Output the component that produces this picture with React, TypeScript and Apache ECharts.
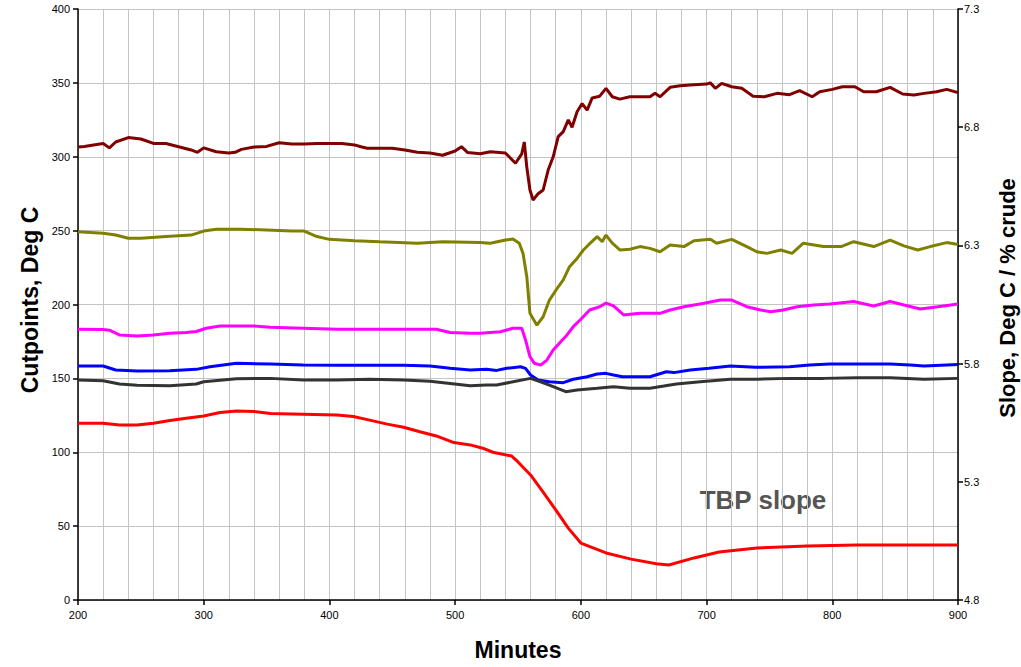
import React, { useEffect, useRef } from "react";
import * as echarts from "echarts";

const xTicks = [200, 300, 400, 500, 600, 700, 800, 900];
const slopeTicks = [4.8, 5.3, 5.8, 6.3, 6.8, 7.3];

const maroonX = [200,205,220,225,230,240,250,260,270,280,290,295,300,310,320,325,330,340,350,360,370,380,390,400,410,420,425,430,440,450,460,470,480,490,500,505,510,520,528,540,548,553,555,557,559.5,562,566,570,574,578,582,586,590,593,597,601,605,609,615,620,625,631,639,647,655,659,663,671,679,687,700,703,707,712,720,728,737,746,756,766,774,784,790,800,808,818,825,835,846,856,865,873,883,891,900];
const maroonY = [306.6,307,309,306,310,313,312,309,309,306.8,304.6,303,306,303.4,302.5,303,305,306.6,307,309.5,308.6,308.6,309,309,309,308,306.8,305.8,305.8,305.8,304.6,303,302.6,301,303.9,306.8,302.8,302,303.4,302.5,295.6,302,310,293,277.5,270.7,275,277.5,291,300,313.6,317,325,320,330.5,336,331.6,339.8,341,346.3,340.6,339,340.6,340.6,340.6,342.9,340.6,347,348,348.6,349.2,350,346.3,349.7,347.4,346.3,341,340.6,342.9,342,344.7,340.6,344,345.6,347.4,347.4,344,344,347,342.5,341.8,342.9,344,345.6,343.4];

const oliveX = [200,220,230,240,250,270,290,300,310,330,350,370,380,390,400,420,440,470,490,520,528,540,546,551,554,557,559.5,565,570,575,582,586,591,597,602,606,613,617,620,625,631,639,647,655,663,671,682,690,703,708,720,732,740,748,759,768,777,793,807,817,833,846,857,868,878,891,900];
const oliveY = [249.3,248.2,247,244.8,244.8,246,247,249.7,250.9,251,250.4,249.7,249.7,246,244.1,243.2,242.5,241.5,242.5,241.9,241.5,243.6,244.3,241.5,234.6,218.8,194,186,191.7,203,212,216.6,225.6,231.2,236.9,240.3,245.9,242.5,247,241.5,236.9,237.4,239.2,238,235.7,240.3,239.2,243.2,244.1,241.5,244.1,239.2,235.7,234.6,236.9,234.6,241.5,239.2,239.2,242.5,239.2,243.6,239.7,236.9,239.2,241.9,240.6];

const magentaX = [200,220,225,233,247,260,273,286,294,302,313,326,340,353,379,406,432,459,485,496,512,520,536,546,553,556,559.5,563,568,573,578,584,589,594,600,607,615,620,626,634,647,663,671,682,698,711,720,732,743,751,761,772,785,798,817,833,846,857,870,884,900];
const magentaY = [183.2,183,182.6,179.4,178.7,179.4,180.5,181,181.7,183.9,185.5,185.5,185.5,184.6,183.9,183.2,183.2,183.2,183.2,181,180.5,180.5,181.6,183.9,183.9,176,164.7,160.2,159,162.4,169.2,174.8,179.4,185,190,196.3,198.5,201,199,192.9,194,194,196.3,198.5,200.8,203,203,198.5,196.3,195.1,196.3,198.5,199.7,200.4,202,199,202,199.7,197,198.5,200.4];

const blueX = [200,220,230,247,273,294,305,326,353,379,406,432,459,480,496,512,525,533,541,552,556,560,566,575,586,594,605,613,620,626,633,639,655,668,674,687,702,719,739,766,782,798,819,846,862,873,900];
const blueY = [158.4,158.4,155.7,155,155.2,156.1,157.9,160.2,159.7,159,158.8,158.8,158.8,158.4,156.8,155.7,156.1,155.4,156.8,157.9,156.8,152.3,148.9,147.7,147.1,149.4,151.1,153,153.4,152.3,151.1,151.1,151.1,154.5,153.9,155.7,156.8,158.4,157.5,157.9,159,159.7,159.7,159.7,159,158.4,159.4];

const grayX = [200,220,233,247,273,294,300,326,353,379,406,432,459,480,496,512,525,533,546,560,568,578,588,597,613,626,639,655,666,676,695,719,740,766,793,820,846,873,900];
const grayY = [148.9,148.4,146.2,145.3,145,146.2,147.7,149.8,150,148.9,148.9,149.4,148.9,148,146.6,145,145.5,145.5,147.7,150,147.7,144.4,141,142.1,143.3,144.4,143.3,143.3,144.8,146.2,147.7,149.4,149.4,150,150,150.5,150.5,149.4,150];

const slopeX = [200,220,233,247,260,273,286,300,313,326,340,353,379,406,419,432,446,459,472,485,499,512,522,530,545,550,560,570,580,590,600,620,640,660,670,690,710,740,780,820,860,900];
const slopeY = [5.548,5.548,5.54,5.54,5.548,5.559,5.569,5.578,5.593,5.599,5.597,5.589,5.586,5.583,5.576,5.561,5.544,5.531,5.512,5.494,5.466,5.456,5.442,5.425,5.409,5.384,5.329,5.256,5.181,5.104,5.041,4.999,4.973,4.953,4.948,4.978,5.003,5.02,5.028,5.033,5.033,5.033];

const zip = (xs: number[], ys: number[]) => xs.map((x, i) => [x, ys[i]]);

const FONT = "'Liberation Sans', Arial, sans-serif";

export default function App() {
  const ref = useRef<HTMLDivElement>(null);
  useEffect(() => {
    if (!ref.current) return;
    const chart = echarts.init(ref.current, null, { renderer: "svg" });
    const line = (name: string, xs: number[], ys: number[], color: string, yAxisIndex = 0) => ({
      name,
      type: "line",
      yAxisIndex,
      data: zip(xs, ys),
      showSymbol: false,
      smooth: false,
      lineStyle: { color, width: 3 },
      itemStyle: { color },
      z: 3,
    });
    chart.setOption({
      animation: false,
      backgroundColor: "#ffffff",
      grid: { left: 78, right: 63, top: 9, bottom: 67, containLabel: false },
      xAxis: {
        type: "value",
        min: 200,
        max: 900,
        interval: 100,
        axisLine: { show: true, lineStyle: { color: "#000", width: 1.5 } },
        axisTick: { show: true, length: 5, lineStyle: { color: "#000", width: 1.5 } },
        axisLabel: { color: "#000", fontSize: 11, fontFamily: FONT, margin: 9, formatter: (v: number) => (xTicks.includes(v) ? String(v) : "") },
        splitLine: { show: true, lineStyle: { color: "#c4c4c4", width: 1 } },
        minorTick: { show: false, splitNumber: 5 },
        minorSplitLine: { show: true, lineStyle: { color: "#c4c4c4", width: 1 } },
      },
      yAxis: [
        {
          type: "value",
          min: 0,
          max: 400,
          interval: 50,
          position: "left",
          axisLine: { show: true, lineStyle: { color: "#000", width: 1.5 } },
          axisTick: { show: true, length: 5, lineStyle: { color: "#000", width: 1.5 } },
          axisLabel: { color: "#000", fontSize: 11, fontFamily: FONT, margin: 8 },
          splitLine: { show: true, lineStyle: { color: "#c4c4c4", width: 1 } },
        },
        {
          type: "value",
          min: 4.8,
          max: 7.3,
          position: "right",
          axisLine: { show: true, lineStyle: { color: "#000", width: 1.5 } },
          axisTick: { show: true, length: 5, customValues: slopeTicks, lineStyle: { color: "#000", width: 1.5 } },
          axisLabel: {
            color: "#000",
            fontSize: 11,
            fontFamily: FONT,
            margin: 6,
            customValues: slopeTicks,
            formatter: (v: number) => v.toFixed(1),
          },
          splitLine: { show: false },
        },
      ],
      series: [
        line("Maroon", maroonX, maroonY, "#800000"),
        line("Olive", oliveX, oliveY, "#808000"),
        line("Magenta", magentaX, magentaY, "#ff00ff"),
        line("Blue", blueX, blueY, "#0000ff"),
        line("Gray", grayX, grayY, "#333333"),
        line("TBP slope", slopeX, slopeY, "#ff0000", 1),
      ],
      graphic: [
        {
          type: "text",
          x: 30,
          y: 300,
          rotation: Math.PI / 2,
          style: {
            text: "Cutpoints, Deg C",
            font: `bold 23px ${FONT}`,
            fill: "#000",
            align: "center",
            verticalAlign: "middle",
          },
        },
        {
          type: "text",
          x: 1007,
          y: 298,
          rotation: Math.PI / 2,
          style: {
            text: "Slope, Deg C / % crude",
            font: `bold 22px ${FONT}`,
            fill: "#000",
            align: "center",
            verticalAlign: "middle",
          },
        },
        {
          type: "text",
          x: 518,
          y: 650,
          style: {
            text: "Minutes",
            font: `bold 23px ${FONT}`,
            fill: "#000",
            align: "center",
            verticalAlign: "middle",
          },
        },
        {
          type: "text",
          x: 763,
          y: 500,
          style: {
            text: "TBP slope",
            font: `bold 26px ${FONT}`,
            fill: "#555555",
            align: "center",
            verticalAlign: "middle",
          },
        },
      ],
    });
    return () => chart.dispose();
  }, []);
  return (
    <div
      ref={ref}
      style={{ position: "fixed", left: 0, top: 0, width: 1021, height: 667 }}
    />
  );
}
